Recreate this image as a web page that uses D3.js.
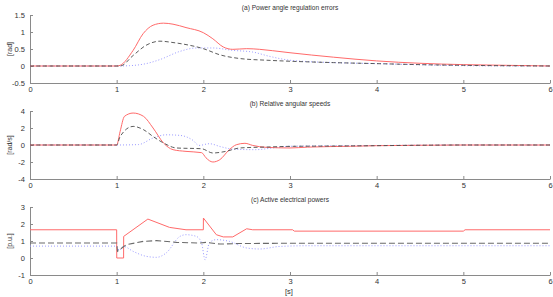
<!DOCTYPE html>
<html>
<head>
<meta charset="utf-8">
<script src="https://cdn.jsdelivr.net/npm/d3@7"></script>
<style>
    body { margin: 0; background: #fff; }
    svg text { font-family: "Liberation Sans", Arial, sans-serif; fill: #333; }
    .axis path, .axis line { stroke: #8a8a8a; }
</style>
</head>
<body>
<svg id="chart" width="553" height="297"></svg>
<script>
    // time axis ticks [s]
    const xTicks = [0, 1, 2, 3, 4, 5, 6];

    // (a) power angle regulation errors [rad]
    const aTicks = [-0.5, 0, 0.5, 1, 1.5];
    const aRedT = [0, 1.0, 1.04, 1.19, 1.305, 1.42, 1.54, 1.65, 1.8, 2.0, 2.11, 2.23, 2.34, 2.5, 2.65, 2.8, 3.0, 3.5, 4.0, 4.5, 5.0, 5.5, 6.0];
    const aRedV = [0, 0, 0.02, 0.46, 0.95, 1.2, 1.26, 1.23, 1.13, 0.98, 0.8, 0.56, 0.49, 0.51, 0.49, 0.45, 0.39, 0.26, 0.15, 0.08, 0.04, 0.02, 0];
    const aBlackT = [0, 1.04, 1.19, 1.34, 1.5, 1.65, 1.8, 2.0, 2.19, 2.42, 2.73, 3.0, 3.5, 4.0, 4.5, 5.0, 6.0];
    const aBlackV = [0, 0, 0.31, 0.61, 0.73, 0.69, 0.63, 0.51, 0.33, 0.22, 0.17, 0.14, 0.1, 0.07, 0.04, 0.02, 0];
    const aBlueT = [0, 1.0, 1.15, 1.34, 1.5, 1.73, 1.92, 2.11, 2.34, 2.57, 2.77, 3.0, 3.5, 4.0, 4.6, 5.0, 6.0];
    const aBlueV = [0, 0, 0.01, 0.07, 0.19, 0.43, 0.53, 0.53, 0.46, 0.41, 0.28, 0.17, 0.1, 0.07, 0.03, 0.01, 0];

    // (b) relative angular speeds [rad/s]
    const bTicks = [-4, -2, 0, 2, 4];
    const bRedT = [0, 1.0, 1.04, 1.09, 1.19, 1.31, 1.42, 1.54, 1.65, 1.8, 1.98, 2.03, 2.11, 2.19, 2.3, 2.38, 2.48, 2.57, 2.73, 3.0, 3.2, 3.7, 4.0, 4.5, 5.0, 6.0];
    const bRedV = [0, 0, 1.6, 3.37, 3.76, 3.37, 2.0, 0.24, -0.55, -0.75, -0.9, -1.5, -2.0, -1.73, -0.55, 0.03, 0.2, -0.05, -0.28, -0.35, -0.25, -0.15, -0.08, -0.03, 0, 0];
    const bBlackT = [0, 1.0, 1.04, 1.19, 1.31, 1.42, 1.54, 1.69, 1.98, 2.11, 2.26, 2.42, 2.73, 3.0, 3.5, 4.0, 4.5, 5.0, 6.0];
    const bBlackV = [0, 0, 1.0, 2.19, 1.8, 1.0, 0.24, -0.35, -0.44, -0.94, -0.75, -0.35, -0.24, -0.16, -0.12, -0.08, -0.03, 0, 0];
    const bBlueT = [0, 1.0, 1.25, 1.42, 1.57, 1.73, 1.88, 1.95, 2.07, 2.2, 2.35, 2.6, 2.8, 3.0, 3.5, 4.0, 4.5, 5.0, 6.0];
    const bBlueV = [0, 0, 0.05, 0.82, 1.2, 1.13, 0.55, -0.05, 0.15, -0.2, -0.5, -0.55, -0.35, -0.15, -0.1, -0.06, -0.02, 0, 0];

    // (c) active electrical powers [p.u.]
    const cTicks = [-1, 0, 1, 2, 3];
    const cRedT = [0, 1.0, 1.001, 1.08, 1.081, 1.36, 1.61, 1.8, 2.0, 2.001, 2.15, 2.23, 2.34, 2.5, 2.57, 3.03, 3.05, 5.0, 5.02, 6.0];
    const cRedV = [1.66, 1.66, 0, 0, 1.27, 2.29, 1.8, 1.66, 1.66, 2.35, 1.37, 1.24, 1.24, 1.72, 1.66, 1.66, 1.58, 1.58, 1.66, 1.66];
    const cBlackT = [0, 1.0, 1.01, 1.11, 1.31, 1.46, 1.69, 1.96, 2.03, 2.19, 2.4, 3.0, 6.0];
    const cBlackV = [0.88, 0.88, 0.4, 0.78, 0.98, 1.02, 0.92, 0.88, 0.92, 0.82, 0.85, 0.87, 0.87];
    const cBlueT = [0, 1.0, 1.03, 1.08, 1.19, 1.34, 1.46, 1.57, 1.73, 1.8, 1.92, 1.98, 2.02, 2.07, 2.15, 2.3, 2.5, 2.65, 2.88, 3.2, 6.0];
    const cBlueV = [0.7, 0.7, 0.45, 0.68, 0.39, 0.1, 0.04, 0.29, 1.27, 1.37, 1.27, 0.88, -0.1, 0.9, 1.08, 0.98, 0.59, 0.53, 0.68, 0.72, 0.72];

    const svg = d3.select("#chart");
    const x = d3.scaleLinear().domain([0, 6]).range([30, 550]);

    const panels = [
        {title: "(a) Power angle regulation errors", unit: "[rad]", ticks: aTicks, top: 15, bottom: 83,
            series: [[aBlueT, aBlueV, "blue"], [aRedT, aRedV, "red"], [aBlackT, aBlackV, "black"]],
            dash: "4,2.5", dashColor: "#4a4a4a", dashWidth: 0.9},
        {title: "(b) Relative angular speeds", unit: "[rad/s]", ticks: bTicks, top: 111, bottom: 179,
            series: [[bBlueT, bBlueV, "blue"], [bRedT, bRedV, "red"], [bBlackT, bBlackV, "black"]],
            dash: "4,2.5", dashColor: "#4a4a4a", dashWidth: 0.9},
        {title: "(c) Active electrical powers", unit: "[p.u.]", ticks: cTicks, top: 207, bottom: 275,
            series: [[cBlueT, cBlueV, "blue"], [cRedT, cRedV, "red"], [cBlackT, cBlackV, "black"]],
            dash: "6,3", dashColor: "#6a6a6a", dashWidth: 1.1, linear: true}
    ];

    const styles = {
        red: {color: "#ff6a6a", width: 1, dash: null},
        blue: {color: "#9a9aff", width: 1, dash: "1,2"}
    };

    const fmt = d => String(d);

    panels.forEach(function (p) {
        const y = d3.scaleLinear()
            .domain([p.ticks[0], p.ticks[p.ticks.length - 1]])
            .range([p.bottom, p.top]);

        const g = svg.append("g");

        // x axis, ticks inward
        g.append("g")
            .attr("class", "axis")
            .attr("transform", "translate(0," + p.bottom + ")")
            .call(d3.axisBottom(x).tickValues(xTicks).tickFormat(fmt).tickSize(-3).tickPadding(3).tickSizeOuter(0))
            .call(s => s.selectAll("text").attr("font-size", 7.5).attr("dy", "0.75em"));

        // y axis, ticks inward
        g.append("g")
            .attr("class", "axis")
            .attr("transform", "translate(" + x(0) + ",0)")
            .call(d3.axisLeft(y).tickValues(p.ticks).tickFormat(fmt).tickSize(-3).tickPadding(5).tickSizeOuter(0))
            .call(s => s.selectAll("text").attr("font-size", 7.5));
        g.selectAll(".axis text").attr("fill", "#333").attr("stroke", "none");

        g.append("text")
            .attr("x", 290)
            .attr("y", p.top - 5)
            .attr("text-anchor", "middle")
            .attr("font-size", 6.6)
            .text(p.title);

        g.append("text")
            .attr("transform", "translate(12," + ((p.top + p.bottom) / 2) + ") rotate(-90)")
            .attr("text-anchor", "middle")
            .attr("font-size", 7)
            .text(p.unit);

        p.series.forEach(function (s) {
            const isBlack = s[2] === "black";
            const st = isBlack ? {color: p.dashColor, width: p.dashWidth, dash: p.dash} : styles[s[2]];
            const pts = s[0].map((t, i) => [t, s[1][i]]);
            const line = d3.line()
                .x(d => x(d[0]))
                .y(d => y(d[1]))
                .curve(p.linear && s[2] !== "blue" ? d3.curveLinear : d3.curveMonotoneX);
            g.append("path")
                .datum(pts)
                .attr("d", line)
                .attr("fill", "none")
                .attr("stroke", st.color)
                .attr("stroke-width", st.width)
                .attr("stroke-dasharray", st.dash);
        });
    });

    svg.append("text")
        .attr("x", 289)
        .attr("y", 294)
        .attr("text-anchor", "middle")
        .attr("font-size", 7.5)
        .text("[s]");
</script>
</body>
</html>
